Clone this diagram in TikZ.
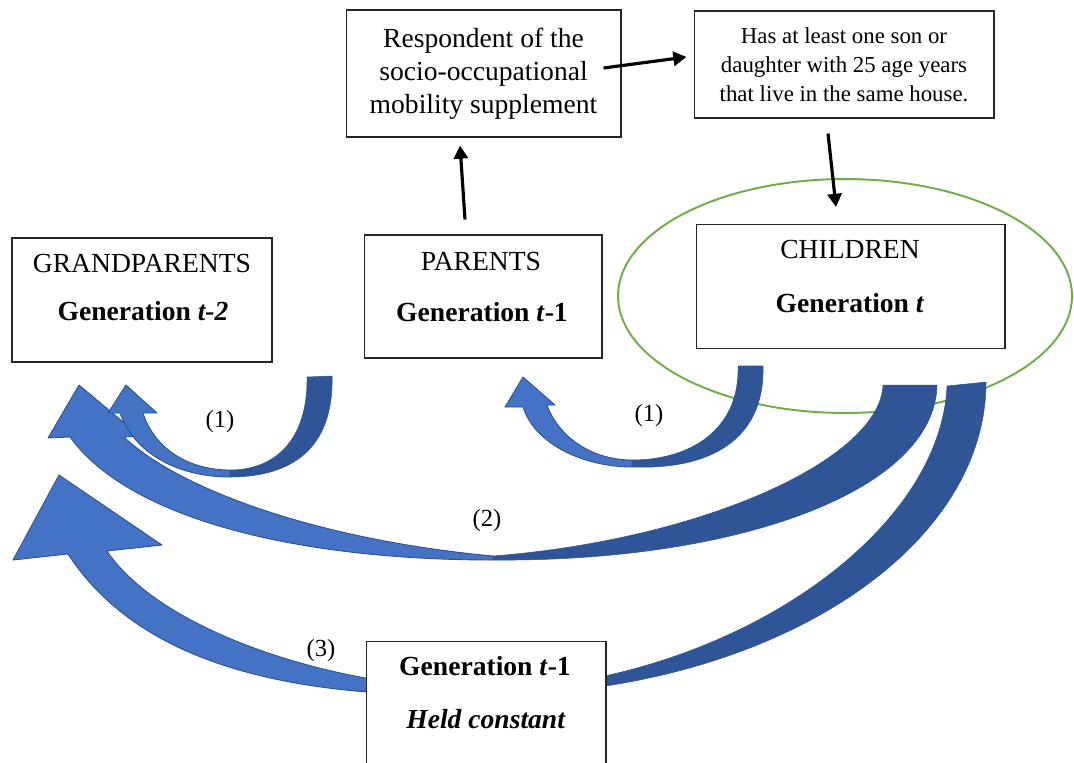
\documentclass[tikz,border=0pt]{standalone}
\usepackage{fontspec}
\setmainfont{Liberation Serif}
\usetikzlibrary{arrows.meta,shapes.geometric}
\definecolor{bandlight}{HTML}{4472C4}
\definecolor{banddark}{HTML}{2F5597}
\definecolor{bandedge}{HTML}{2F528F}
\definecolor{ringgreen}{HTML}{70AD47}
\begin{document}
\begin{tikzpicture}[x=0.02cm,y=-0.02cm,
  box/.style={draw=black!85,line width=0.6pt,fill=white,inner sep=0pt},
  big/.style={font=\fontsize{15.7}{18.7}\selectfont},
  small/.style={font=\fontsize{13}{16.4}\selectfont},
  lab/.style={font=\fontsize{14}{16}\selectfont},
  link/.style={line width=1.8pt,-{Triangle[length=7.5pt,width=8pt]}},
  lightpart/.style={fill=bandlight,draw=bandedge,line width=0.5pt,line join=round},
  darkpart/.style={fill=banddark,draw=banddark,line width=0.3pt,line join=round}
]
\useasboundingbox (0,0) rectangle (1074,762);

% green ring round the children
\node[ellipse,draw=ringgreen,line width=1.1pt,minimum width=9.08cm,minimum height=4.68cm,inner sep=0pt] (ring) at (845,296) {};

% (3) children -> grandparents, parents held constant
\path[darkpart] (986,382) .. controls (986,555) and (762,695) .. (486,695)
  -- (486,690) .. controls (720,686) and (940,540) .. (947,386) -- cycle;
\path[lightpart] (486,695) .. controls (330,698) and (150,680) .. (68,554)
  -- (13,560) -- (59,475) -- (162,545) -- (107,551)
  .. controls (160,630) and (330,688) .. (486,690) -- cycle;

% (2) children -> grandparents
\path[darkpart] (937,385) .. controls (935,490) and (740,562) .. (493,560)
  -- (493,556) .. controls (700,540) and (880,460) .. (883,385) -- cycle;
\path[lightpart] (493,560) .. controls (300,560) and (130,520) .. (70,437)
  -- (48,438) -- (79,385) -- (140,436) -- (124,437)
  .. controls (180,490) and (320,540) .. (493,556) -- cycle;

% (1) parents -> grandparents
\path[darkpart] (332,376) .. controls (334,450) and (290,477) .. (230,477)
  -- (230,470) .. controls (275,470) and (308,440) .. (307,377) -- cycle;
\path[lightpart] (230,477) .. controls (180,477) and (135,455) .. (120,413)
  -- (108,413) -- (126,385) -- (157,413) -- (143,413)
  .. controls (155,450) and (190,470) .. (230,470) -- cycle;

% (1) children -> parents
\path[darkpart] (763,366) .. controls (765,440) and (710,470) .. (632,467)
  -- (632,460) .. controls (690,460) and (740,430) .. (738,366) -- cycle;
\path[lightpart] (632,467) .. controls (585,467) and (535,445) .. (523,407)
  -- (505,407) -- (523,377) -- (555,405) -- (547,405)
  .. controls (560,440) and (595,460) .. (632,460) -- cycle;

% boxes
\node[box,big,align=center,minimum width=5.5cm,minimum height=2.54cm] (resp) at (483.5,73.5)
  {Respondent of the\\socio-occupational\\mobility supplement};
\node[box,small,align=center,minimum width=6cm,minimum height=2.14cm] (has) at (844,64.5)
  {Has at least one son or\\daughter with 25 age years\\that live in the same house.};
\node[box,minimum width=5.2cm,minimum height=2.48cm] (grand) at (142,300) {};
\node[box,minimum width=4.76cm,minimum height=2.46cm] (par) at (483,296.5) {};
\node[box,minimum width=6.18cm,minimum height=2.48cm] (child) at (850.5,286.5) {};
\begin{scope}
  \clip (0,0) rectangle (1074,762);
  \node[box,anchor=north,minimum width=4.8cm,minimum height=3cm] (held) at (486,641) {};
\end{scope}

% box texts
\node[big,anchor=base] (grandname) at (142,272) {GRANDPARENTS};
\node[big,anchor=base] (grandgen) at (143,320) {\textbf{Generation \textit{t-2}}};
\node[big,anchor=base] (parname) at (481,270) {PARENTS};
\node[big,anchor=base] (pargen) at (482,321) {\textbf{Generation \textit{t}-1}};
\node[big,anchor=base] (childname) at (850,258) {CHILDREN};
\node[big,anchor=base] (childgen) at (850,312) {\textbf{Generation \textit{t}}};
\node[big,anchor=base] (heldgen) at (485,675) {\textbf{Generation \textit{t}-1}};
\node[big,anchor=base] (heldnote) at (486,728) {\textbf{\textit{Held constant}}};

% path labels
\node[lab] (lab1a) at (220,422) {(1)};
\node[lab] (lab1b) at (649,416) {(1)};
\node[lab] (lab2) at (487,521) {(2)};
\node[lab] (lab3) at (321,651) {(3)};

% sample selection links
\draw[link] ([xshift=-0.36cm,yshift=0.3cm]par.north) -- ([xshift=-0.47cm,yshift=-0.16cm]resp.south);
\draw[link] ([xshift=-0.36cm,yshift=0.11cm]resp.east) -- ([xshift=-0.14cm,yshift=0.15cm]has.west);
\draw[link] ([xshift=-0.32cm,yshift=-0.3cm]has.south) -- ([xshift=-0.29cm,yshift=0.34cm]child.north);
\end{tikzpicture}
\end{document}
